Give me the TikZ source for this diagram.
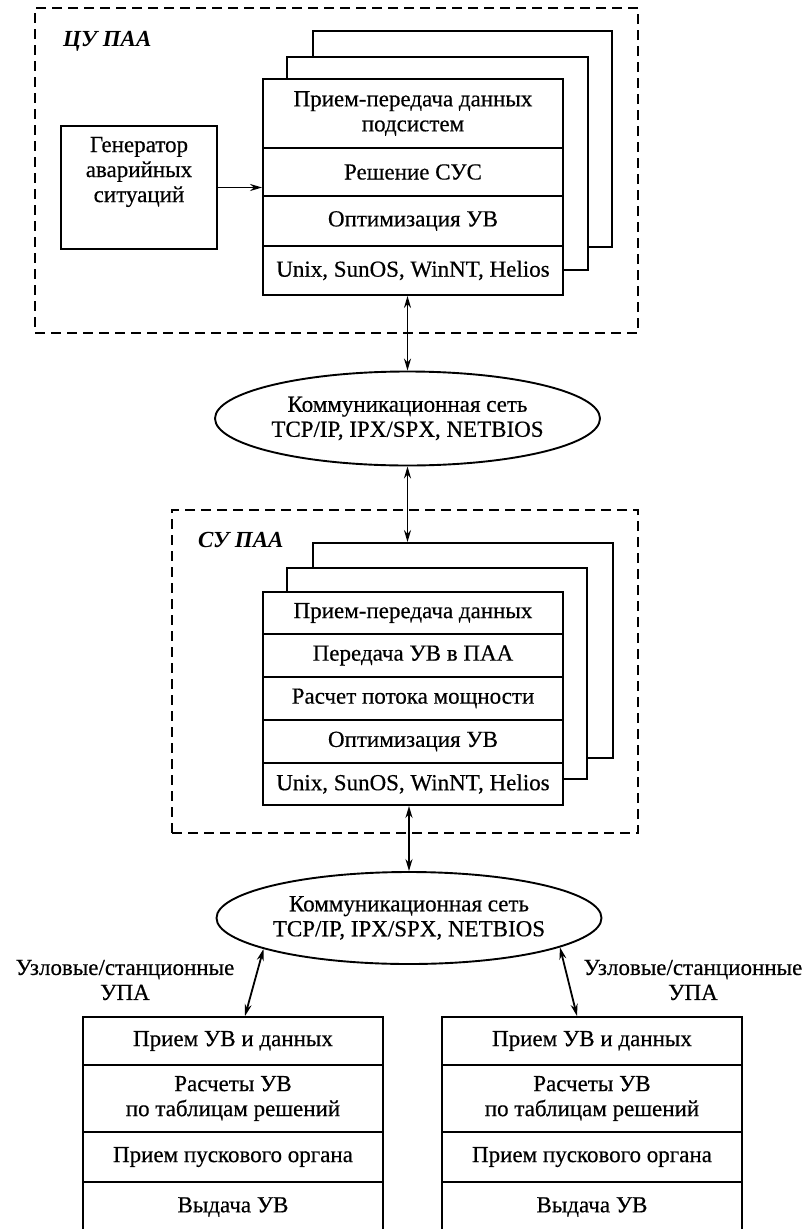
\documentclass[tikz,border=0pt]{standalone}
\usepackage{fontspec}
\setmainfont{Liberation Serif}[UprightFeatures={FakeBold=0.4}]
\usetikzlibrary{arrows.meta,shapes.geometric}
\begin{document}
\begin{tikzpicture}[x=1pt,y=-1pt,
  txt/.style={font=\fontsize{23}{25}\selectfont, align=center},
  cell/.style={draw, line width=1.9pt, fill=white, txt, inner sep=0pt, minimum width=300pt},
  layer/.style={draw, line width=1.9pt, fill=white, inner sep=0pt},
  frame/.style={draw, line width=2.6pt, dash pattern=on 10pt off 6pt, inner sep=0pt},
  net/.style={draw, ellipse, line width=1.9pt, fill=white, txt, inner sep=0pt},
  tip/.tip={Stealth[length=12pt,width=7pt]},
  link/.style={line width=1.8pt, tip-tip},
  feed/.style={line width=1.8pt, -tip},
  tag/.style={font=\fontsize{23}{25}\selectfont\bfseries\itshape, anchor=west, inner sep=0pt}
]
\useasboundingbox (0,0) rectangle (808,1229);
\fill[white] (0,0) rectangle (808,1229);
\clip (0,0) rectangle (808,1229);

% ---------- central control unit ----------
\node[frame, minimum width=603pt, minimum height=325pt] (cuFrame) at (336.5,170.5) {};
\node[tag] (cuTag) at (63,41) {ЦУ ПАА};

\node[layer, minimum width=299pt, minimum height=216pt] (cuL2) at (462.5,139) {};
\node[layer, minimum width=301pt, minimum height=213pt] (cuL1) at (437.5,163.5) {};

\node[cell, minimum height=69pt] (cuA) at (413,113.5) {Прием-передача данных\\подсистем};
\node[cell, minimum height=48pt] (cuB) at (413,172) {Решение СУС};
\node[cell, minimum height=50pt] (cuC) at (413,221) {Оптимизация УВ};
\node[cell, minimum height=49pt] (cuD) at (413,270.5) {Unix, SunOS, WinNT, Helios};

\node[layer, minimum width=156pt, minimum height=123pt] (gen) at (139,187.5) {};
\node[txt, inner sep=0pt] (genTxt) at (139,172) {Генератор\\аварийных\\ситуаций};
\draw[feed] (gen.east) -- (gen.east -| cuA.west);

% ---------- upper network ----------
\node[net, minimum width=365pt, minimum height=94pt] (e1) at (407.5,418.5)
  {Коммуникационная сеть\\TCP/IP, IPX/SPX, NETBIOS};
\draw[link] (e1.north |- cuD.south) -- (e1.north);

% ---------- station control unit ----------
\node[frame, minimum width=466pt, minimum height=323pt] (suFrame) at (405,671.5) {};
\node[tag] (suTag) at (198,540) {СУ ПАА};

\node[layer, minimum width=300pt, minimum height=215pt] (suL2) at (463,650.5) {};
\node[layer, minimum width=300pt, minimum height=211pt] (suL1) at (437,673.5) {};

\node[cell, minimum height=42pt] (suA) at (413,613) {Прием-передача данных};
\node[cell, minimum height=43pt] (suB) at (413,655.5) {Передача УВ в ПАА};
\node[cell, minimum height=43pt] (suC) at (413,698.5) {Расчет потока мощности};
\node[cell, minimum height=43pt] (suD) at (413,741.5) {Оптимизация УВ};
\node[cell, minimum height=42pt] (suE) at (413,784) {Unix, SunOS, WinNT, Helios};

\draw[link] (e1.south) -- (e1.south |- suL2.north);

% ---------- lower network ----------
\node[net, minimum width=364pt, minimum height=92pt] (e2) at (409,918)
  {Коммуникационная сеть\\TCP/IP, IPX/SPX, NETBIOS};
\draw[link] (e2.north |- suE.south) -- (e2.north);

% ---------- node / station devices ----------
\node[cell, minimum height=48pt] (lA) at (233,1041) {Прием УВ и данных};
\node[cell, minimum height=67pt] (lB) at (233,1098.5) {Расчеты УВ\\по таблицам решений};
\node[cell, minimum height=50pt] (lC) at (233,1157) {Прием пускового органа};
\node[cell, minimum height=50pt] (lD) at (233,1207) {Выдача УВ};

\node[cell, minimum height=48pt] (rA) at (592,1041) {Прием УВ и данных};
\node[cell, minimum height=67pt] (rB) at (592,1098.5) {Расчеты УВ\\по таблицам решений};
\node[cell, minimum height=50pt] (rC) at (592,1157) {Прием пускового органа};
\node[cell, minimum height=50pt] (rD) at (592,1207) {Выдача УВ};

\draw[link] (e2.192) -- ([xshift=12pt]lA.north);
\draw[link] (e2.349) -- ([xshift=-15pt]rA.north);

\node[txt, inner sep=0pt] (lblL) at (125,980) {Узловые/станционные\\УПА};
\node[txt, inner sep=0pt] (lblR) at (693,980) {Узловые/станционные\\УПА};
\end{tikzpicture}
\end{document}
